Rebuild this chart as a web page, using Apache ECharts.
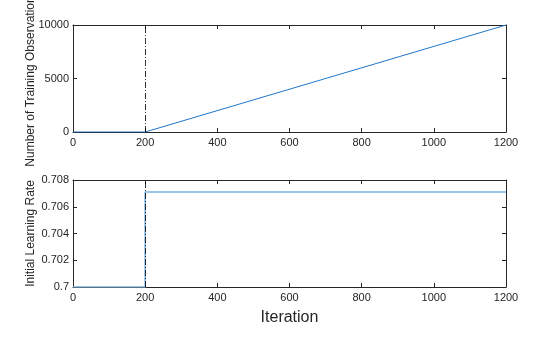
<!DOCTYPE html>
<html>
<head>
<meta charset="utf-8">
<script src="https://cdn.jsdelivr.net/npm/echarts@6/dist/echarts.min.js"></script>
<style>html,body{margin:0;padding:0;background:#fff;}#c{width:560px;height:337px;}</style>
</head>
<body>
<div id="c"></div>
<script>
// Data
var iterObs = [0, 200, 1200];
var numObs = [0, 0, 10000];
var iterLR = [0, 200, 200, 1200];
var learnRate = [0.7, 0.7, 0.7071, 0.7071];
var switchIter = 200;
var xTicks = [0, 200, 400, 600, 800, 1000, 1200];
var obsTicks = [0, 5000, 10000];
var lrTicks = [0.7, 0.702, 0.704, 0.706, 0.708];

var FONT = "'Liberation Sans', Helvetica, Arial, sans-serif";
var AX = '#262626';

function pairs(xs, ys) { return xs.map(function (x, i) { return [x, ys[i]]; }); }

function xAx(grid, pos, labels, name) {
  return {
    type: 'value', gridIndex: grid, position: pos,
    min: xTicks[0], max: xTicks[xTicks.length - 1], interval: xTicks[1] - xTicks[0],
    name: name || '', nameLocation: 'middle', nameGap: 23, nameMoveOverlap: false,
    nameTextStyle: { fontFamily: FONT, fontSize: 16, color: AX },
    axisLine: { show: true, onZero: false, lineStyle: { color: AX, width: 1 } },
    axisTick: { show: true, inside: true, length: 4, lineStyle: { color: AX } },
    axisLabel: { show: labels, margin: 5, fontFamily: FONT, fontSize: 11, color: AX, showMaxLabel: true, showMinLabel: true,
      formatter: function (v) { return String(v); } },
    splitLine: { show: false }
  };
}
function yAx(grid, pos, ticks, labels, name, fmt) {
  return {
    type: 'value', gridIndex: grid, position: pos,
    min: ticks[0], max: ticks[ticks.length - 1], interval: ticks[1] - ticks[0],
    name: name || '', nameLocation: 'middle', nameGap: 36, nameMoveOverlap: false,
    nameTextStyle: { fontFamily: FONT, fontSize: 12, color: AX },
    axisLine: { show: true, onZero: false, lineStyle: { color: AX, width: 1 } },
    axisTick: { show: true, inside: true, length: 4, lineStyle: { color: AX } },
    axisLabel: { show: labels, margin: 4, fontFamily: FONT, fontSize: 11, color: AX, formatter: fmt, showMaxLabel: true, showMinLabel: true },
    splitLine: { show: false }
  };
}
var markLn = {
  silent: true, symbol: ['none', 'none'],
  label: { show: false },
  lineStyle: { color: '#000', width: 0.8, type: [6, 2, 1, 2] },
  data: [{ xAxis: switchIter }]
};

var chart = echarts.init(document.getElementById('c'), null, { renderer: 'canvas' });
chart.setOption({
  animation: false,
  backgroundColor: '#fff',
  grid: [
    { left: 73, top: 25, width: 433, height: 107, containLabel: false, outerBoundsMode: 'none' },
    { left: 73, top: 180, width: 433, height: 107, containLabel: false, outerBoundsMode: 'none' }
  ],
  xAxis: [
    xAx(0, 'bottom', true),
    xAx(0, 'top', false),
    xAx(1, 'bottom', true, 'Iteration'),
    xAx(1, 'top', false)
  ],
  yAxis: [
    yAx(0, 'left', obsTicks, true, 'Number of Training Observations', function (v) { return String(v); }),
    yAx(0, 'right', obsTicks, false),
    yAx(1, 'left', lrTicks, true, 'Initial Learning Rate', function (v) { return String(+v.toFixed(3)); }),
    yAx(1, 'right', lrTicks, false)
  ],
  series: [
    {
      type: 'line', xAxisIndex: 0, yAxisIndex: 0, data: pairs(iterObs, numObs),
      showSymbol: false, symbol: 'none', lineStyle: { color: '#1f77c9', width: 1 },
      markLine: markLn, z: 3
    },
    {
      type: 'line', xAxisIndex: 2, yAxisIndex: 2, data: pairs(iterLR, learnRate),
      showSymbol: false, symbol: 'none', lineStyle: { color: '#7db2de', width: 1.6 },
      markLine: markLn, z: 3
    }
  ]
});
</script>
</body>
</html>
